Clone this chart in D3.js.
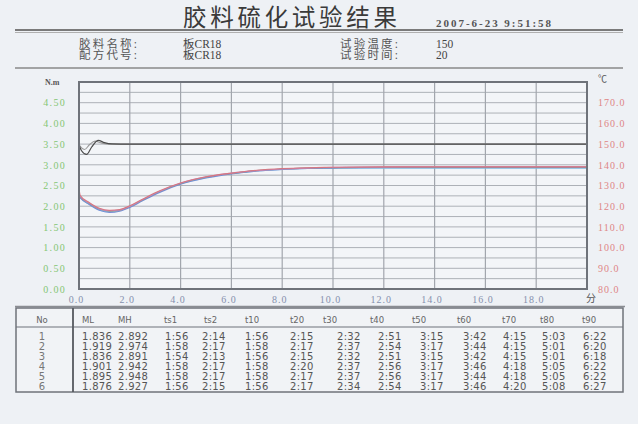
<!DOCTYPE html>
<html><head><meta charset="utf-8">
<script src="https://cdn.jsdelivr.net/npm/d3@7"></script>
<style>
html,body{margin:0;padding:0;background:#eef1f5;}
svg{display:block;}
</style></head>
<body>
<svg id="chart" width="638" height="424"></svg>
<script>
// ---------- data ----------
const titleText = "胶料硫化试验结果";
const dateText = "2007-6-23 9:51:58";
const infoLabels = ["胶料名称:", "配方代号:", "试验温度:", "试验时间:"];
const infoValues = ["板CR18", "板CR18", "150", "20"];

const xTicks = [0, 2, 4, 6, 8, 10, 12, 14, 16, 18];
const yLeftTicks = [0, 0.5, 1, 1.5, 2, 2.5, 3, 3.5, 4, 4.5];
const yRightTicks = [80, 90, 100, 110, 120, 130, 140, 150, 160, 170];

const torqueTimes = [0, 0.05, 0.4, 0.8, 1.2, 1.6, 2.0, 2.5, 3.2, 4.0, 5.0, 6.0, 7.0, 8.0, 9.0, 10, 12, 14, 16, 18, 20];
const torque1 = [2.44, 2.26, 2.09, 1.95, 1.90, 1.92, 2.01, 2.17, 2.38, 2.56, 2.71, 2.80, 2.87, 2.91, 2.93, 2.94, 2.95, 2.95, 2.95, 2.95, 2.95];
const torque2 = [2.24, 2.20, 2.04, 1.90, 1.85, 1.88, 1.97, 2.13, 2.34, 2.53, 2.68, 2.78, 2.85, 2.89, 2.91, 2.92, 2.93, 2.93, 2.93, 2.93, 2.93];
const torque3 = [2.26, 2.21, 2.05, 1.91, 1.86, 1.89, 1.98, 2.14, 2.35, 2.54, 2.69, 2.79, 2.85, 2.89, 2.91, 2.92, 2.92, 2.92, 2.92, 2.92, 2.92];
const torque4 = [2.30, 2.24, 2.08, 1.94, 1.89, 1.91, 2.00, 2.16, 2.37, 2.56, 2.71, 2.80, 2.86, 2.90, 2.92, 2.94, 2.95, 2.96, 2.96, 2.96, 2.96];
const torque5 = [2.28, 2.23, 2.07, 1.93, 1.88, 1.90, 1.99, 2.15, 2.36, 2.55, 2.70, 2.79, 2.86, 2.90, 2.92, 2.93, 2.94, 2.94, 2.94, 2.94, 2.94];
const torque6 = [2.27, 2.22, 2.06, 1.92, 1.87, 1.90, 1.99, 2.15, 2.36, 2.55, 2.70, 2.79, 2.86, 2.90, 2.92, 2.93, 2.94, 2.94, 2.94, 2.94, 2.94];
const torqueColors = ["#d9737a", "#6f86d6", "#86d2e6", "#c98bc8", "#8f8f8f", "#9ccb8c"];

const tempTimesA = [0, 0.1, 0.3, 0.5, 0.76, 1.0, 1.3, 2, 20];
const tempA = [149.6, 146.8, 145.0, 148.6, 151.8, 150.7, 150.1, 150.0, 150.0];
const tempTimesB = [0, 0.1, 0.22, 0.42, 0.63, 0.9, 1.2, 2, 20];
const tempB = [149.8, 148.2, 147.4, 149.8, 151.4, 150.5, 150.0, 150.0, 150.0];

const tableHeaders = ["No", "ML", "MH", "ts1", "ts2", "t10", "t20", "t30", "t40", "t50", "t60", "t70", "t80", "t90"];
const tableRows = [
  ["1", "1.836", "2.892", "1:56", "2:14", "1:56", "2:15", "2:32", "2:51", "3:15", "3:42", "4:15", "5:03", "6:22"],
  ["2", "1.919", "2.974", "1:58", "2:17", "1:58", "2:17", "2:37", "2:54", "3:17", "3:44", "4:15", "5:01", "6:20"],
  ["3", "1.836", "2.891", "1:54", "2:13", "1:56", "2:15", "2:32", "2:51", "3:15", "3:42", "4:15", "5:01", "6:18"],
  ["4", "1.901", "2.942", "1:58", "2:17", "1:58", "2:20", "2:37", "2:56", "3:17", "3:46", "4:18", "5:05", "6:22"],
  ["5", "1.895", "2.948", "1:58", "2:17", "1:58", "2:17", "2:37", "2:56", "3:17", "3:44", "4:18", "5:05", "6:22"],
  ["6", "1.876", "2.927", "1:56", "2:15", "1:56", "2:17", "2:34", "2:54", "3:17", "3:46", "4:20", "5:08", "6:27"]
];

// ---------- layout ----------
const svg = d3.select("#chart");
const W = 638, H = 424;
const plot = {l: 79, r: 587, t: 82, b: 289};
const x = d3.scaleLinear().domain([0, 20]).range([plot.l, plot.r]);
const yL = d3.scaleLinear().domain([0, 5]).range([plot.b, plot.t]);
const yR = d3.scaleLinear().domain([80, 180]).range([plot.b, plot.t]);

svg.append("rect").attr("width", W).attr("height", H).attr("fill", "#eef1f5");

// title
svg.append("text").attr("x", 183).attr("y", 26)
  .attr("textLength", 214).attr("lengthAdjust", "spacing")
  .style("font-family", "'Noto Sans CJK SC'").style("font-size", "23.5px")
  .attr("fill", "#3a3a3a").text(titleText);
svg.append("text").attr("x", 436).attr("y", 27)
  .attr("textLength", 115).attr("lengthAdjust", "spacing")
  .style("font-family", "'Liberation Serif'").style("font-size", "11px").style("font-weight", "bold")
  .attr("fill", "#555").text(dateText);

svg.append("line").attr("x1", 15).attr("x2", 623).attr("y1", 30).attr("y2", 30).attr("stroke", "#7a7a7a").attr("stroke-width", 2);
svg.append("line").attr("x1", 15).attr("x2", 623).attr("y1", 32.5).attr("y2", 32.5).attr("stroke", "#b0b0b0").attr("stroke-width", 1);
svg.append("line").attr("x1", 15).attr("x2", 623).attr("y1", 68).attr("y2", 68).attr("stroke", "#888").attr("stroke-width", 1.5);

const infoPos = [[79, 48], [79, 59], [340, 48], [340, 59]];
const valPos = [[183, 48], [183, 59], [436, 48], [436, 59]];
infoLabels.forEach((t, i) => {
  svg.append("text").attr("x", infoPos[i][0]).attr("y", infoPos[i][1])
    .attr("textLength", 58).attr("lengthAdjust", "spacing")
    .style("font-family", "'Liberation Serif','Noto Sans CJK SC'").style("font-size", "11.5px")
    .attr("fill", "#555").text(t);
  svg.append("text").attr("x", valPos[i][0]).attr("y", valPos[i][1])
    .style("font-family", "'Liberation Serif','Noto Sans CJK SC'").style("font-size", "11.5px")
    .attr("fill", "#444").text(infoValues[i]);
});

// plot background
svg.append("rect").attr("x", plot.l).attr("y", plot.t).attr("width", plot.r - plot.l).attr("height", plot.b - plot.t)
  .attr("fill", "#f3f5f8");

// grid
const gGrid = svg.append("g");
gGrid.selectAll("line.h").data(d3.range(0.25, 5, 0.25)).join("line")
  .attr("x1", plot.l).attr("x2", plot.r).attr("y1", d => yL(d)).attr("y2", d => yL(d))
  .attr("stroke", "#adb1b7").attr("stroke-width", 1);
gGrid.selectAll("line.v").data(d3.range(2, 20, 2)).join("line")
  .attr("x1", d => x(d)).attr("x2", d => x(d)).attr("y1", plot.t).attr("y2", plot.b)
  .attr("stroke", "#a2a6ad").attr("stroke-width", 1.2);

// temperature curves
const tempLine = (times) => d3.line().x((d, i) => x(times[i])).y(d => yR(d)).curve(d3.curveMonotoneX);
svg.append("path").datum(tempB).attr("d", tempLine(tempTimesB)).attr("fill", "none").attr("stroke", "#9a9a9a").attr("stroke-width", 1.2);
svg.append("path").datum(tempA).attr("d", tempLine(tempTimesA)).attr("fill", "none").attr("stroke", "#4d4d4d").attr("stroke-width", 1.2);

// torque curves
const torqueSeries = [torque1, torque2, torque3, torque4, torque5, torque6];
const tLine = d3.line().x((d, i) => x(torqueTimes[i])).y(d => yL(d)).curve(d3.curveMonotoneX);
[5, 2, 1, 4, 3, 0].forEach(k => {
  svg.append("path").datum(torqueSeries[k]).attr("d", tLine)
    .attr("fill", "none").attr("stroke", torqueColors[k]).attr("stroke-width", 1.1).attr("opacity", 0.9);
});

// border
svg.append("rect").attr("x", plot.l).attr("y", plot.t).attr("width", plot.r - plot.l).attr("height", plot.b - plot.t)
  .attr("fill", "none").attr("stroke", "#6f737a").attr("stroke-width", 2);

// axes
const axisFont = "'Liberation Serif'";
const gx = svg.append("g").attr("transform", `translate(-3,${plot.b})`)
  .call(d3.axisBottom(x).tickValues(xTicks).tickSize(0).tickPadding(7).tickFormat(d3.format(".1f")));
gx.select(".domain").remove();
gx.selectAll("text").style("font-family", axisFont).style("font-size", "10px").style("letter-spacing", "1px")
  .attr("fill", "#8590ad");

const gyl = svg.append("g").attr("transform", `translate(${plot.l - 13},0)`)
  .call(d3.axisLeft(yL).tickValues(yLeftTicks).tickSize(0).tickPadding(0).tickFormat(d3.format(".2f")));
gyl.select(".domain").remove();
gyl.selectAll("text").style("font-family", axisFont).style("font-size", "10px").style("letter-spacing", "1.3px")
  .attr("fill", "#84c674");

const gyr = svg.append("g").attr("transform", `translate(${plot.r + 11},0)`)
  .call(d3.axisRight(yR).tickValues(yRightTicks).tickSize(0).tickPadding(0).tickFormat(d3.format(".1f")));
gyr.select(".domain").remove();
gyr.selectAll("text").style("font-family", axisFont).style("font-size", "10px").style("letter-spacing", "1px")
  .attr("fill", "#de8585");

svg.append("text").attr("x", 45).attr("y", 85).style("font-family", axisFont).style("font-size", "8px").style("font-weight", "bold")
  .attr("fill", "#555").text("N.m");
svg.append("text").attr("x", 598).attr("y", 82).style("font-family", "'Noto Sans CJK SC'").style("font-size", "9px")
  .attr("fill", "#555").text("℃");
svg.append("text").attr("x", 586).attr("y", 302).style("font-family", "'Noto Sans CJK SC'").style("font-size", "10px")
  .attr("fill", "#555").text("分");

// table
const tb = {l: 16, r: 623, t: 308, b: 392, hdr: 327, sep: 73};
svg.append("line").attr("x1", 15).attr("x2", 625).attr("y1", 306.5).attr("y2", 306.5).attr("stroke", "#8a8d92").attr("stroke-width", 1.5);
svg.append("rect").attr("x", tb.l).attr("y", tb.t).attr("width", tb.r - tb.l).attr("height", tb.b - tb.t)
  .attr("fill", "#f1f3f6").attr("stroke", "#6f737a").attr("stroke-width", 1.5);
svg.append("line").attr("x1", tb.l).attr("x2", tb.r).attr("y1", tb.hdr).attr("y2", tb.hdr).attr("stroke", "#6f737a").attr("stroke-width", 1.2);
svg.append("line").attr("x1", tb.sep).attr("x2", tb.sep).attr("y1", tb.t).attr("y2", tb.b).attr("stroke", "#55595f").attr("stroke-width", 1.8);

const hdrX = [42, 82, 118, 164, 204, 245, 290, 323, 370, 412, 457, 502, 540, 582];
const valX = [42, 82, 118, 165, 202, 245, 290, 337, 378, 420, 463, 503, 542, 583];
const rowY = [339.5, 350, 360, 370, 379.5, 389.5];
const tFont = "'DejaVu Sans'";
tableHeaders.forEach((h, j) => {
  svg.append("text").attr("x", hdrX[j]).attr("y", 323).attr("text-anchor", j === 0 ? "middle" : "start")
    .style("font-family", tFont).style("font-size", "8.5px").attr("fill", "#666").text(h);
});
tableRows.forEach((row, i) => {
  row.forEach((v, j) => {
    svg.append("text").attr("x", valX[j]).attr("y", rowY[i]).attr("text-anchor", j === 0 ? "middle" : "start")
      .style("font-family", tFont).style("font-size", "10px").style("letter-spacing", "0.3px")
      .attr("fill", j === 0 ? "#777" : "#555").text(v);
  });
});
</script>
</body></html>
